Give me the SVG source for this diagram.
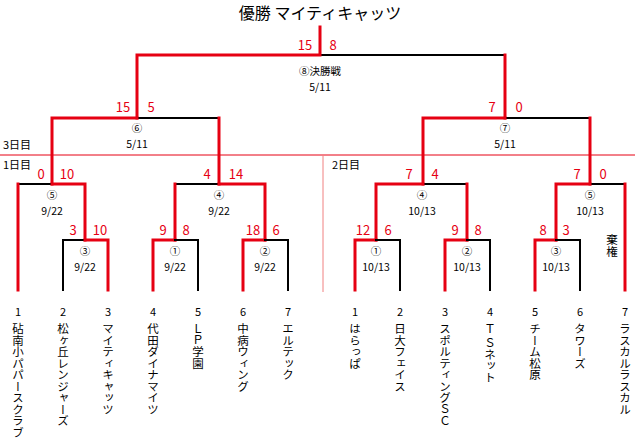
<svg xmlns="http://www.w3.org/2000/svg" width="635" height="443" viewBox="0 0 635 443">
<style>
text{font-family:"Noto Sans CJK JP","Liberation Sans",sans-serif;}
.r{stroke:#e60012;stroke-width:3;fill:none;stroke-linecap:square}
.k{stroke:#000;stroke-width:2;fill:none;stroke-linecap:square}
.s{fill:#e60012;font-size:13px;text-anchor:middle}
.l{fill:#000;font-size:10.5px;text-anchor:middle}
.n{fill:#000;font-size:11px;text-anchor:middle}
.v{fill:#000;font-size:11.5px;writing-mode:tb}
.d{fill:#000;font-size:11px}
</style>
<rect width="635" height="443" fill="#fff"/>
<text x="320" y="19" font-size="16" text-anchor="middle" fill="#000">優勝 マイティキャッツ</text>
<line x1="0" y1="155" x2="635" y2="155" stroke="#e60012" stroke-width="1"/>
<line x1="323" y1="155" x2="323" y2="292" stroke="#f08080" stroke-width="1"/>
<text class="d" x="3" y="149">3日目</text>
<text class="d" x="3" y="169">1日目</text>
<text class="d" x="332" y="169">2日目</text>
<g id="connectors">
<path class="k" d="M320 55H505"/>
<path class="r" d="M320 27V55H137V118"/>
<path class="r" d="M505 55V118"/>
<path class="k" d="M137 118H219"/>
<path class="r" d="M137 118H52V184"/>
<path class="r" d="M219 118V184"/>
<path class="k" d="M505 118H590"/>
<path class="r" d="M505 118H423V184"/>
<path class="r" d="M590 118V184"/>
<path class="k" d="M18 184H52"/>
<path class="r" d="M18 290V184"/>
<path class="r" d="M52 184H85V240"/>
<path class="k" d="M63 290V240H85"/>
<path class="r" d="M85 240H108V290"/>
<path class="k" d="M175 184H219"/>
<path class="r" d="M175 184V240"/>
<path class="r" d="M219 184H265V240"/>
<path class="r" d="M153 290V240H175"/>
<path class="k" d="M175 240H198V290"/>
<path class="r" d="M243 290V240H265"/>
<path class="k" d="M265 240H288V290"/>
<path class="k" d="M423 184H467"/>
<path class="r" d="M376 240V184H423"/>
<path class="r" d="M467 184V240"/>
<path class="r" d="M355 290V240H376"/>
<path class="k" d="M376 240H400V290"/>
<path class="r" d="M445 290V240H467"/>
<path class="k" d="M467 240H490V290"/>
<path class="k" d="M590 184H625"/>
<path class="r" d="M556 240V184H590"/>
<path class="r" d="M625 184V290"/>
<path class="r" d="M535 290V240H556"/>
<path class="k" d="M556 240H580V290"/>
</g>
<g id="scores">
<text class="s" x="305" y="50">15</text><text class="s" x="333" y="50">8</text>
<text class="s" x="123" y="112">15</text><text class="s" x="151" y="112">5</text>
<text class="s" x="492" y="112">7</text><text class="s" x="519" y="112">0</text>
<text class="s" x="41" y="179">0</text><text class="s" x="67" y="179">10</text>
<text class="s" x="73" y="235">3</text><text class="s" x="100" y="235">10</text>
<text class="s" x="207" y="179">4</text><text class="s" x="236" y="179">14</text>
<text class="s" x="163" y="235">9</text><text class="s" x="186" y="235">8</text>
<text class="s" x="253" y="235">18</text><text class="s" x="276" y="235">6</text>
<text class="s" x="409" y="179">7</text><text class="s" x="435" y="179">4</text>
<text class="s" x="363" y="235">12</text><text class="s" x="388" y="235">6</text>
<text class="s" x="455" y="235">9</text><text class="s" x="478" y="235">8</text>
<text class="s" x="577" y="179">7</text><text class="s" x="603" y="179">0</text>
<text class="s" x="543" y="235">8</text><text class="s" x="566" y="235">3</text>
</g>
<g id="matches">
<text class="l" x="320" y="75">⑧決勝戦</text><text class="l" x="320" y="91">5/11</text>
<text class="l" x="137" y="132">⑥</text><text class="l" x="137" y="148">5/11</text>
<text class="l" x="505" y="132">⑦</text><text class="l" x="505" y="148">5/11</text>
<text class="l" x="52" y="199">⑤</text><text class="l" x="52" y="215">9/22</text>
<text class="l" x="85" y="255">③</text><text class="l" x="85" y="271">9/22</text>
<text class="l" x="219" y="199">④</text><text class="l" x="219" y="215">9/22</text>
<text class="l" x="175" y="255">①</text><text class="l" x="175" y="271">9/22</text>
<text class="l" x="265" y="255">②</text><text class="l" x="265" y="271">9/22</text>
<text class="l" x="422" y="199">④</text><text class="l" x="422" y="215">10/13</text>
<text class="l" x="376" y="255">①</text><text class="l" x="376" y="271">10/13</text>
<text class="l" x="467" y="255">②</text><text class="l" x="467" y="271">10/13</text>
<text class="l" x="590" y="199">⑤</text><text class="l" x="590" y="215">10/13</text>
<text class="l" x="556" y="255">③</text><text class="l" x="556" y="271">10/13</text>
<text class="v" x="612" y="234">棄権</text>
</g>
<g id="teams">
<text class="n" x="18" y="316">1</text><text class="v" x="18" y="323">砧南小パパースクラブ</text>
<text class="n" x="63" y="316">2</text><text class="v" x="63" y="323">松ヶ丘レンジャーズ</text>
<text class="n" x="108" y="316">3</text><text class="v" x="108" y="323">マイティキャッツ</text>
<text class="n" x="153" y="316">4</text><text class="v" x="153" y="323">代田ダイナマイツ</text>
<text class="n" x="198" y="316">5</text><text class="v" x="198" y="323">ＬＰ学園</text>
<text class="n" x="243" y="316">6</text><text class="v" x="243" y="323">中病ウィング</text>
<text class="n" x="288" y="316">7</text><text class="v" x="288" y="323">エルテック</text>
<text class="n" x="355" y="316">1</text><text class="v" x="355" y="323">はらっぱ</text>
<text class="n" x="400" y="316">2</text><text class="v" x="400" y="323">日大フェイス</text>
<text class="n" x="445" y="316">3</text><text class="v" x="445" y="323">スポルティングＳＣ</text>
<text class="n" x="490" y="316">4</text><text class="v" x="490" y="323">Ｔ Ｓネット</text>
<text class="n" x="535" y="316">5</text><text class="v" x="535" y="323">チーム松原</text>
<text class="n" x="580" y="316">6</text><text class="v" x="580" y="323">タワーズ</text>
<text class="n" x="625" y="316">7</text><text class="v" x="625" y="323">ラスカルラスカル</text>
</g>
</svg>
